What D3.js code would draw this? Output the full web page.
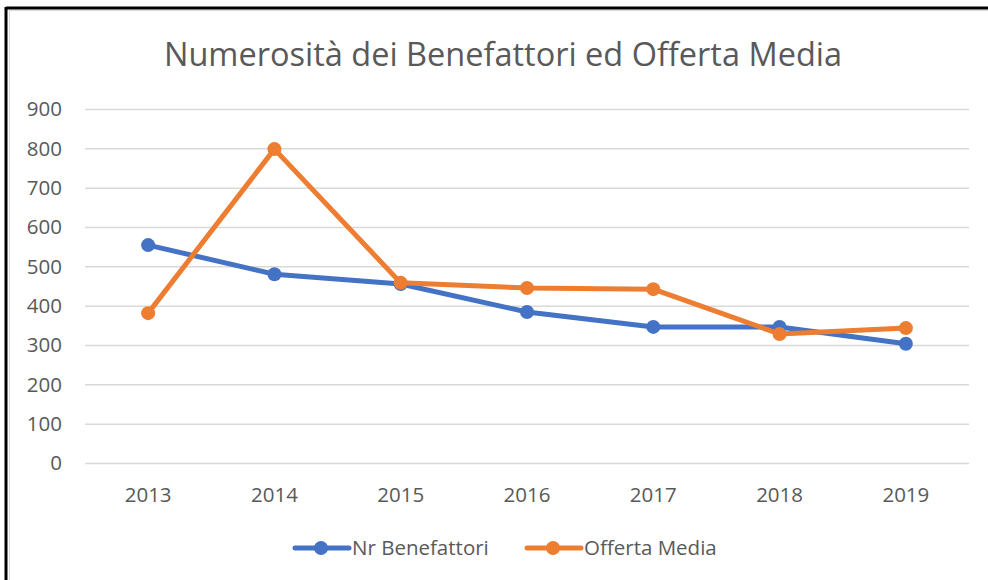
<!DOCTYPE html>
<html>
<head>
  <meta charset="utf-8">
  <style>
    body { margin: 0; background: white; }
    text { font-family: "Open Sans", "Noto Sans", sans-serif; fill: #595959; }
    .grid line { stroke: #d9d9d9; stroke-width: 1.5; }
    .grid path { display: none; }
  </style>
  <script src="https://d3js.org/d3.v7.min.js"></script>
</head>
<body>
  <div id="chart"></div>
  <script>
    const years = ["2013", "2014", "2015", "2016", "2017", "2018", "2019"];
    const benefattori = [554, 480, 455, 384, 346, 346, 303];
    const offerta = [381, 798, 458, 445, 442, 328, 343];
    const yTicks = [0, 100, 200, 300, 400, 500, 600, 700, 800, 900];

    const series = [
      { name: "Nr Benefattori", values: benefattori, color: "#4472C4" },
      { name: "Offerta Media", values: offerta, color: "#ED7D31" }
    ];

    const width = 988, height = 580;
    const margin = { top: 109, right: 19, bottom: 117, left: 85 };

    const svg = d3.select("#chart").append("svg")
      .attr("width", width)
      .attr("height", height);

    // frame (only top and left visible in the cropped original)
    svg.append("line").attr("x1", 6).attr("x2", width).attr("y1", 8).attr("y2", 8)
      .attr("stroke", "black").attr("stroke-width", 3);
    svg.append("line").attr("x1", 6).attr("x2", 6).attr("y1", 7).attr("y2", height)
      .attr("stroke", "black").attr("stroke-width", 3);
    svg.append("line").attr("x1", 9).attr("x2", width).attr("y1", 10.5).attr("y2", 10.5)
      .attr("stroke", "#d9d9d9").attr("stroke-width", 1);
    svg.append("line").attr("x1", 9.5).attr("x2", 9.5).attr("y1", 10).attr("y2", height)
      .attr("stroke", "#d9d9d9").attr("stroke-width", 1);

    const x = d3.scalePoint()
      .domain(years)
      .range([margin.left, width - margin.right])
      .padding(0.5);

    const y = d3.scaleLinear()
      .domain([0, 900])
      .range([height - margin.bottom, margin.top]);

    svg.append("text")
      .attr("x", 503)
      .attr("y", 66)
      .attr("text-anchor", "middle")
      .style("font-size", "32.5px")
      .text("Numerosità dei Benefattori ed Offerta Media");

    svg.append("g")
      .attr("class", "grid")
      .attr("transform", `translate(${margin.left},0)`)
      .call(d3.axisLeft(y).tickValues(yTicks).tickSize(-(width - margin.left - margin.right)).tickFormat(""));

    svg.append("g")
      .selectAll("text")
      .data(yTicks)
      .join("text")
      .attr("x", 62)
      .attr("y", d => y(d))
      .attr("dy", "0.35em")
      .attr("text-anchor", "end")
      .style("font-size", "20.5px")
      .text(d => d);

    svg.append("g")
      .selectAll("text")
      .data(years)
      .join("text")
      .attr("x", d => x(d))
      .attr("y", 502)
      .attr("text-anchor", "middle")
      .style("font-size", "20.5px")
      .text(d => d);

    const line = d3.line()
      .x((d, i) => x(years[i]))
      .y(d => y(d));

    series.forEach(s => {
      svg.append("path")
        .datum(s.values)
        .attr("d", line)
        .attr("fill", "none")
        .attr("stroke", s.color)
        .attr("stroke-width", 5)
        .attr("stroke-linejoin", "round");
      svg.append("g")
        .selectAll("circle")
        .data(s.values)
        .join("circle")
        .attr("cx", (d, i) => x(years[i]))
        .attr("cy", d => y(d))
        .attr("r", 7)
        .attr("fill", s.color);
    });

    // legend
    const legendX = [293, 525];
    series.forEach((s, i) => {
      const g = svg.append("g").attr("transform", `translate(${legendX[i]},548)`);
      g.append("line").attr("x1", 2).attr("x2", 56).attr("y1", 0).attr("y2", 0)
        .attr("stroke", s.color).attr("stroke-width", 5).attr("stroke-linecap", "round");
      g.append("circle").attr("cx", 28).attr("cy", 0).attr("r", 7).attr("fill", s.color);
      g.append("text").attr("x", 59).attr("y", 0).attr("dy", "0.35em")
        .style("font-size", "20.5px").text(s.name);
    });
  </script>
</body>
</html>
